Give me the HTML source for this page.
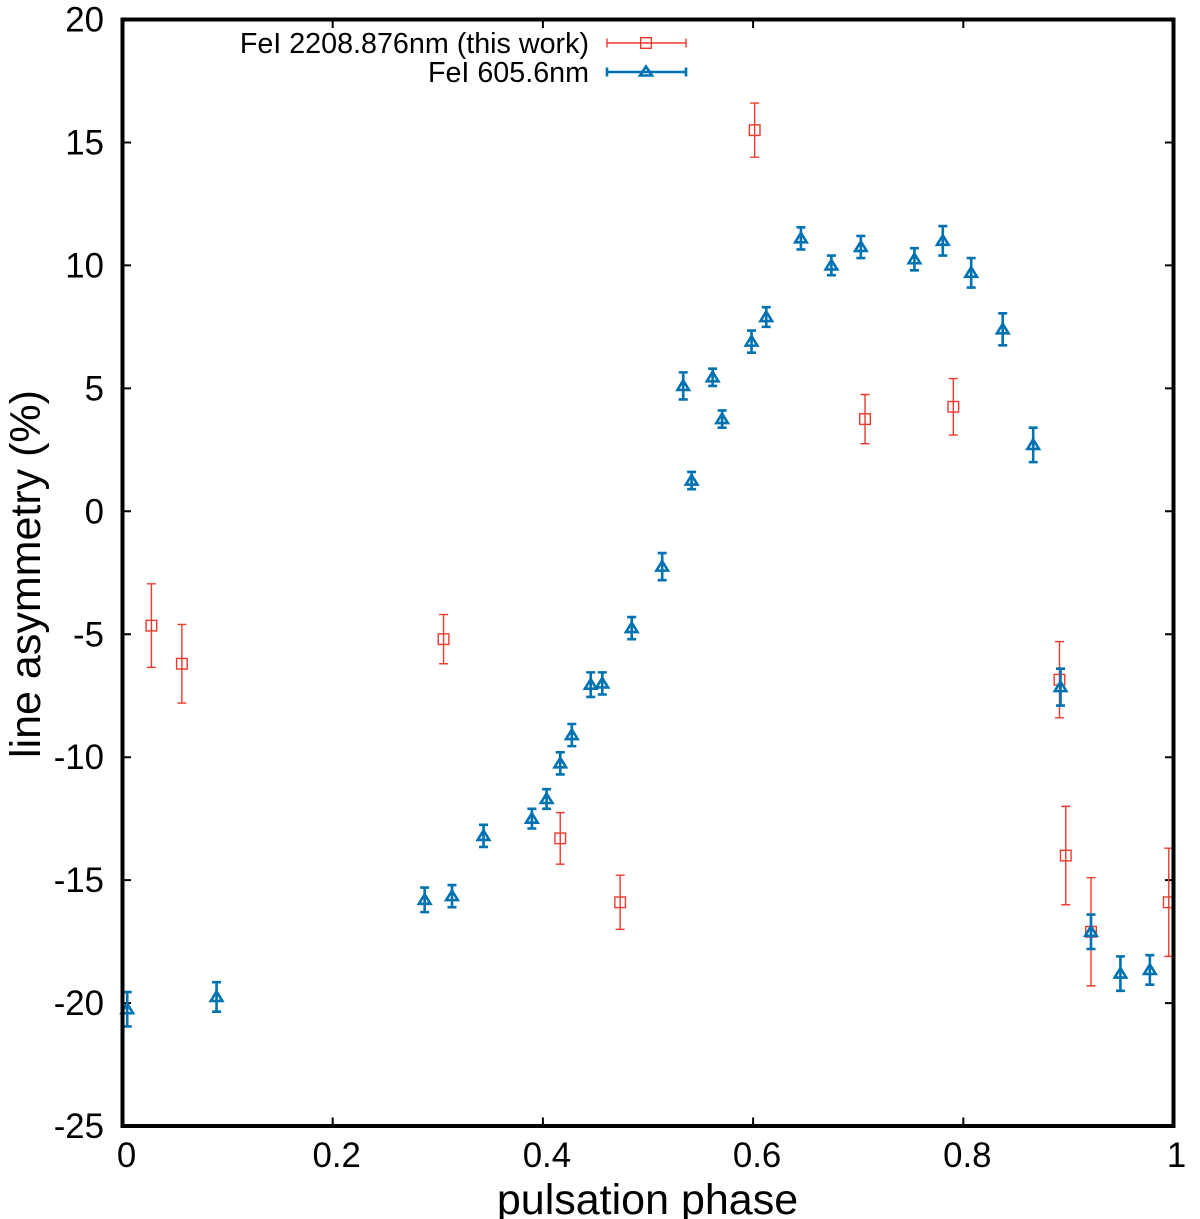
<!DOCTYPE html>
<html lang="en">
<head>
<meta charset="utf-8">
<title>Line asymmetry vs pulsation phase</title>
<style>
html,body{margin:0;padding:0;background:#fff;}
svg{display:block;font-family:"Liberation Sans",sans-serif;}
</style>
</head>
<body>
<svg id="chart" xmlns="http://www.w3.org/2000/svg" width="1200" height="1219" viewBox="0 0 1200 1219">
  <rect x="0" y="0" width="1200" height="1219" fill="#fff"/>
  <g id="ticks"></g>
  <g id="series-red"></g>
  <g id="series-blue"></g>
  <rect x="122.5" y="19.5" width="1051" height="1106.5" fill="none" stroke="#000" stroke-width="4"/>
  <text x="647.5" y="1214" font-size="43" text-anchor="middle">pulsation phase</text>
  <text transform="translate(40,574) rotate(-90)" font-size="43" text-anchor="middle">line asymmetry (%)</text>
  <g>
    <text x="589" y="53" font-size="28.7" text-anchor="end">FeI 2208.876nm (this work)</text>
    <text x="589" y="82" font-size="28.7" text-anchor="end">FeI 605.6nm</text>
    <g fill="none" stroke="#f0392b" stroke-width="1.4">
      <path d="M607 43H686M607 38.500V47.500M686 38.500V47.500"/>
      <rect x="640.7" y="37.7" width="10.6" height="10.6"/>
    </g>
    <g fill="none" stroke="#0072b2" stroke-width="2.600">
      <path d="M607 72H686M607 67.500V76.500M686 67.500V76.500"/>
      <path d="M646 66.500L652 75.500H640Z"/>
    </g>
  </g>
</svg>
<script>
var xTickLabels = ["0", "0.2", "0.4", "0.6", "0.8", "1"];
var xTickValues = [0, 0.2, 0.4, 0.6, 0.8, 1];
var yTickLabels = ["20", "15", "10", "5", "0", "-5", "-10", "-15", "-20", "-25"];
var yTickValues = [20, 15, 10, 5, 0, -5, -10, -15, -20, -25];

var redPhase = [0.0275, 0.0565, 0.3055, 0.4165, 0.4735, 0.6015, 0.7065, 0.7905, 0.8915, 0.8975, 0.9215, 0.9955];
var redValue = [-4.65, -6.2, -5.2, -13.3, -15.9, 15.5, 3.75, 4.25, -6.85, -14.0, -17.1, -15.9];
var redError = [1.7, 1.6, 1.0, 1.05, 1.1, 1.1, 1.0, 1.15, 1.55, 2.0, 2.2, 2.2];

var bluePhase = [0.0045, 0.0895, 0.2875, 0.3135, 0.3435, 0.3895, 0.4035, 0.4165, 0.4275, 0.4455, 0.4565, 0.4845, 0.5135, 0.5415, 0.5335, 0.5615, 0.5705, 0.5985, 0.6125, 0.6455, 0.6745, 0.7025, 0.7535, 0.7805, 0.8075, 0.8375, 0.8665, 0.8925, 0.9215, 0.9495, 0.9775];
var blueValue = [-20.25, -19.75, -15.8, -15.65, -13.2, -12.5, -11.7, -10.25, -9.1, -7.05, -7.0, -4.75, -2.25, 1.25, 5.1, 5.45, 3.75, 6.9, 7.9, 11.1, 10.0, 10.75, 10.25, 11.0, 9.7, 7.4, 2.7, -7.15, -17.1, -18.8, -18.65];
var blueError = [0.7, 0.6, 0.5, 0.45, 0.45, 0.4, 0.4, 0.45, 0.45, 0.5, 0.45, 0.45, 0.55, 0.35, 0.55, 0.35, 0.35, 0.45, 0.4, 0.45, 0.4, 0.45, 0.45, 0.6, 0.6, 0.65, 0.7, 0.75, 0.7, 0.7, 0.6];

var NS = "http://www.w3.org/2000/svg";
function xScale(v) { return 122.5 + v * 1051; }
function yScale(v) { return 19.5 + (20 - v) * 24.59; }

function make(tag, parent, attrs) {
  var el = document.createElementNS(NS, tag);
  for (var k in attrs) { el.setAttribute(k, attrs[k]); }
  parent.appendChild(el);
  return el;
}

var ticks = document.getElementById("ticks");
xTickValues.forEach(function (v, i) {
  var x = xScale(v);
  var t = make("path", ticks, { d: "M" + x + " 1126V1117.500M" + x + " 19.5V28", stroke: "#000", "stroke-width": 2, fill: "none" });
  
  
  var l = make("text", ticks, { x: x + (i === 5 ? 3 : 4), y: 1167, "font-size": 34.8, "text-anchor": "middle" });
  
  
  l.textContent = xTickLabels[i];
});
yTickValues.forEach(function (v, i) {
  var y = yScale(v);
  var t = make("path", ticks, { d: "M122.5 " + y + "H131M1173.5 " + y + "H1165", stroke: "#000", "stroke-width": 2, fill: "none" });
  
  
  var l = make("text", ticks, { x: 104, y: y + 12, "font-size": 34.8, "text-anchor": "end" });
  
  
  l.textContent = yTickLabels[i];
});

var redGroup = document.getElementById("series-red");
redPhase.forEach(function (p, i) {
  var x = xScale(p), y = yScale(redValue[i]);
  var top = yScale(redValue[i] + redError[i]), bot = yScale(redValue[i] - redError[i]);
  var g = make("g", redGroup, { fill: "none", stroke: "#f0392b", "stroke-width": 1.4 });
  
  
  var e = make("path", g, { d: "M" + x + " " + top + "V" + bot + "M" + (x - 4.5) + " " + top + "H" + (x + 4.5) + "M" + (x - 4.5) + " " + bot + "H" + (x + 4.5) });
  
  
  var m = make("rect", g, { x: x - 5.3, y: y - 5.3, width: 10.6, height: 10.6 });
  
  
});

var blueGroup = document.getElementById("series-blue");
bluePhase.forEach(function (p, i) {
  var x = xScale(p), y = yScale(blueValue[i]);
  var top = yScale(blueValue[i] + blueError[i]), bot = yScale(blueValue[i] - blueError[i]);
  var g = make("g", blueGroup, { fill: "none", stroke: "#0072b2", "stroke-width": 2.6 });
  
  
  var e = make("path", g, { d: "M" + x + " " + top + "V" + bot + "M" + (x - 4.5) + " " + top + "H" + (x + 4.5) + "M" + (x - 4.5) + " " + bot + "H" + (x + 4.5) });
  
  
  var m = make("path", g, { d: "M" + x + " " + (y - 5.5) + "L" + (x + 5.8) + " " + (y + 4) + "H" + (x - 5.8) + "Z" });
  
  
});
</script>
</body>
</html>
